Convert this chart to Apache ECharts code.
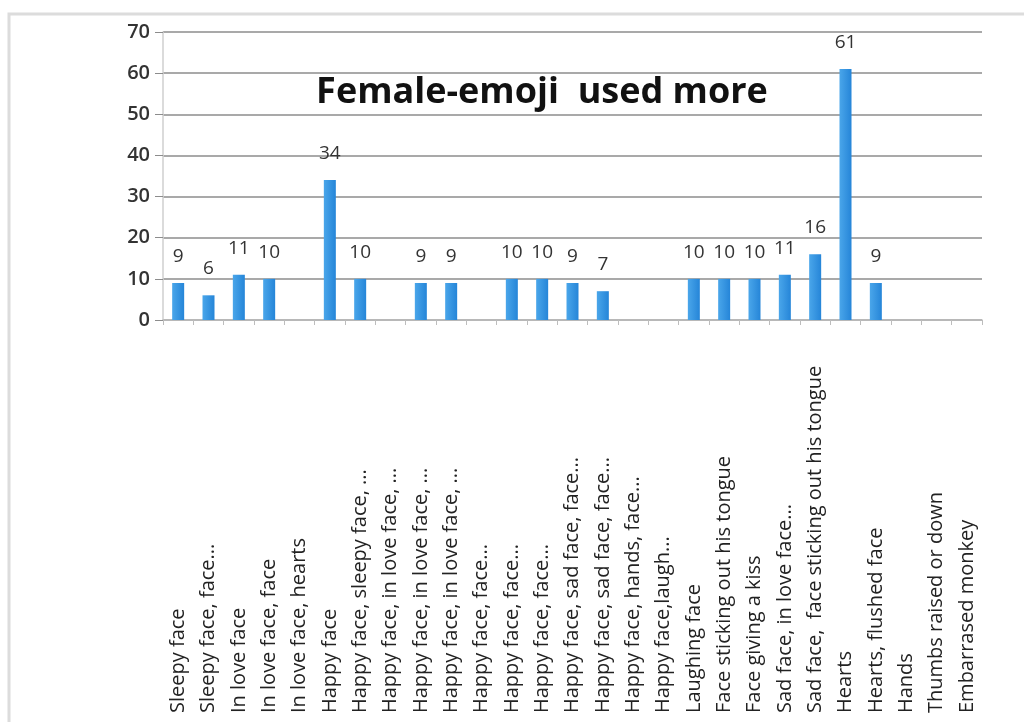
<!DOCTYPE html>
<html>
<head>
<meta charset="utf-8">
<script src="https://cdn.jsdelivr.net/npm/echarts@6/dist/echarts.min.js"></script>
<style>
html,body{margin:0;padding:0;background:#fff;}
#c{width:1024px;height:722px;}
</style>
</head>
<body>
<div id="c"></div>
<script>
const categories = [
  "Sleepy face",
  "Sleepy face, face...",
  "In love face",
  "In love face, face",
  "In love face, hearts",
  "Happy face",
  "Happy face, sleepy face, ...",
  "Happy face, in love face, ...",
  "Happy face, in love face, ...",
  "Happy face, in love face, ...",
  "Happy face, face...",
  "Happy face, face...",
  "Happy face, face...",
  "Happy face, sad face, face...",
  "Happy face, sad face, face...",
  "Happy face, hands, face...",
  "Happy face,laugh...",
  "Laughing face",
  "Face sticking out his tongue",
  "Face giving a kiss",
  "Sad face, in love face...",
  "Sad face,  face sticking out his tongue",
  "Hearts",
  "Hearts, flushed face",
  "Hands",
  "Thumbs raised or down",
  "Embarrased monkey"
];
const values = [9, 6, 11, 10, null, 34, 10, null, 9, 9, null, 10, 10, 9, 7, null, null, 10, 10, 10, 11, 16, 61, 9, null, null, null];
const yTicks = { min: 0, max: 70, interval: 10 };
const titleText = "Female-emoji  used more";

const chart = echarts.init(document.getElementById('c'), null, { renderer: 'canvas' });
chart.setOption({
  animation: false,
  backgroundColor: '#ffffff',
  graphic: [{
    type: 'rect',
    shape: { x: 9, y: 14, width: 1040, height: 740 },
    style: { fill: 'none', stroke: '#dcdcdc', lineWidth: 3 },
    silent: true,
    z: -1
  }],
  title: {
    text: titleText,
    left: 537,
    top: 70,
    textAlign: 'center',
    textStyle: { fontFamily: 'Open Sans', fontWeight: 'bold', fontSize: 36, color: '#111' }
  },
  grid: { left: 163, right: 42, top: 32, bottom: 402, containLabel: false },
  xAxis: {
    type: 'category',
    data: categories,
    axisLine: { lineStyle: { color: '#bdbdbd', width: 1.5 } },
    axisTick: { show: true, alignWithLabel: false, length: 5, lineStyle: { color: '#bdbdbd' } },
    axisLabel: {
      interval: 0,
      rotate: 90,
      align: 'left',
      verticalAlign: 'middle',
      margin: 393,
      fontFamily: 'Open Sans',
      fontSize: 20,
      color: '#222'
    }
  },
  yAxis: {
    type: 'value',
    min: yTicks.min,
    max: yTicks.max,
    interval: yTicks.interval,
    axisLine: { show: true, lineStyle: { color: '#cfcfcf', width: 1.5 } },
    axisTick: { show: true, inside: false, length: 8, lineStyle: { color: '#8c8c8c' } },
    splitLine: { lineStyle: { color: '#8c8c8c', width: 1.5 } },
    axisLabel: { margin: 13, fontFamily: 'Open Sans', fontWeight: 600, fontSize: 20, color: '#333' }
  },
  series: [{
    type: 'bar',
    data: values,
    barWidth: 12,
    itemStyle: {
      color: new echarts.graphic.LinearGradient(0, 0, 1, 0, [
        { offset: 0, color: '#4aa6ea' },
        { offset: 1, color: '#2585d8' }
      ])
    },
    label: {
      show: true,
      position: 'top',
      distance: 17,
      fontFamily: 'Open Sans',
      fontSize: 19,
      color: '#333'
    }
  }]
});
</script>
</body>
</html>
